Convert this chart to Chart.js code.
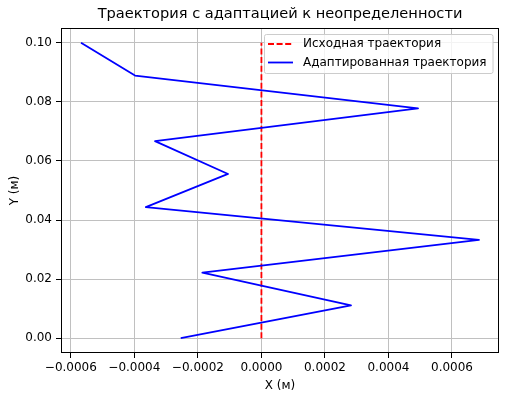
<!DOCTYPE html>
<html>
<head>
<meta charset="utf-8">
<script src="https://cdn.jsdelivr.net/npm/chart.js@4.4.1/dist/chart.umd.min.js"></script>
<style>
  html, body { margin: 0; padding: 0; background: #fff; }
  #wrap { width: 506px; height: 399px; }
</style>
</head>
<body>
<div id="wrap"><canvas id="traj" width="506" height="399"></canvas></div>
<script>
// данные траектории
const yPoints = [0, 0.0111, 0.0222, 0.0333, 0.0444, 0.0556, 0.0667, 0.0778, 0.0889, 0.1];
const xOriginal = [0, 0, 0, 0, 0, 0, 0, 0, 0, 0];
const xAdapted = [-0.000254, 0.000282, -0.000186, 0.000685, -0.000364, -0.000105, -0.000335, 0.000493, -0.000398, -0.000568];
const xTicks = [-0.0006, -0.0004, -0.0002, 0, 0.0002, 0.0004, 0.0006];
const yTicks = [0, 0.02, 0.04, 0.06, 0.08, 0.10];
const labels = ['Исходная траектория', 'Адаптированная траектория'];
const titleText = 'Траектория с адаптацией к неопределенности';

const FONT = "'DejaVu Sans', sans-serif";
const toPts = (xs) => xs.map((x, i) => ({ x: x, y: yPoints[i] }));
const fmt = (v, d) => (Math.abs(v) < 1e-12 ? 0 : v).toFixed(d).replace('-', '\u2212');

// рамка, легенда и заголовок в стиле matplotlib
const mplExtras = {
    id: 'mplExtras',
    afterDraw(chart) {
        const { ctx, chartArea: a } = chart;
        ctx.save();
        ctx.strokeStyle = '#000';
        ctx.lineWidth = 1;
        ctx.strokeRect(Math.round(a.left) + 0.5, Math.round(a.top) + 0.5,
            Math.round(a.right - a.left) - 1, Math.round(a.bottom - a.top) - 1);

        // заголовок
        ctx.fillStyle = '#000';
        ctx.font = '14.6px ' + FONT;
        ctx.textAlign = 'center';
        ctx.textBaseline = 'middle';
        ctx.fillText(titleText, (a.left + a.right) / 2, 14);

        // легенда
        ctx.font = '12px ' + FONT;
        const tw = Math.max(...labels.map(t => ctx.measureText(t).width));
        const w = 4 + 25 + 10 + tw + 6;
        const h = 39;
        const x0 = Math.round(a.right - 6 - w);
        const y0 = Math.round(a.top + 6);
        ctx.beginPath();
        ctx.roundRect(x0 + 0.5, y0 + 0.5, w, h, 2);
        ctx.fillStyle = 'rgba(255,255,255,0.8)';
        ctx.fill();
        ctx.strokeStyle = '#cccccc';
        ctx.stroke();
        chart.data.datasets.forEach((ds, i) => {
            const yy = y0 + 10 + i * 18.5;
            ctx.beginPath();
            ctx.setLineDash(ds.borderDash || []);
            ctx.strokeStyle = ds.borderColor;
            ctx.lineWidth = ds.borderWidth;
            ctx.moveTo(x0 + 4, yy);
            ctx.lineTo(x0 + 29, yy);
            ctx.stroke();
            ctx.setLineDash([]);
            ctx.fillStyle = '#000';
            ctx.textAlign = 'left';
            ctx.fillText(ds.label, x0 + 39, yy);
        });
        ctx.restore();
    }
};

new Chart(document.getElementById('traj'), {
    type: 'scatter',
    data: {
        datasets: [{
            label: labels[0],
            data: toPts(xOriginal),
            showLine: true,
            borderColor: 'red',
            borderWidth: 1.8,
            borderDash: [6, 2.6],
            pointRadius: 0,
            order: 1
        }, {
            label: labels[1],
            data: toPts(xAdapted),
            showLine: true,
            borderColor: 'blue',
            borderWidth: 1.8,
            borderJoinStyle: 'round',
            pointRadius: 0,
            order: 0
        }]
    },
    options: {
        responsive: false,
        animation: false,
        layout: { padding: { top: 28, right: 7, bottom: 0, left: 0 } },
        plugins: {
            legend: { display: false },
            title: { display: false },
            tooltip: { enabled: false }
        },
        scales: {
            x: {
                type: 'linear',
                min: -0.000631,
                max: 0.000748,
                afterFit: (s) => { s.height = 46; },
                afterBuildTicks: (s) => { s.ticks = xTicks.map(v => ({ value: v })); },
                ticks: {
                    color: '#000',
                    padding: 2.5,
                    maxRotation: 0,
                    font: { family: FONT, size: 12 },
                    callback: (v) => fmt(v, 4)
                },
                grid: { color: '#c0c0c0', lineWidth: 1, tickLength: 5, tickColor: '#000' },
                border: { display: false },
                title: {
                    display: true,
                    text: 'X (м)',
                    color: '#000',
                    padding: { top: 0, bottom: 6 },
                    font: { family: FONT, size: 12 }
                }
            },
            y: {
                type: 'linear',
                min: -0.005,
                max: 0.105,
                afterFit: (s) => { s.width = 61; },
                afterBuildTicks: (s) => { s.ticks = yTicks.map(v => ({ value: v })); },
                ticks: {
                    color: '#000',
                    padding: 4,
                    font: { family: FONT, size: 12 },
                    callback: (v) => fmt(v, 2)
                },
                grid: { color: '#c0c0c0', lineWidth: 1, tickLength: 5, tickColor: '#000' },
                border: { display: false },
                title: {
                    display: true,
                    text: 'Y (м)',
                    color: '#000',
                    padding: { top: 8, bottom: 0 },
                    font: { family: FONT, size: 12 }
                }
            }
        }
    },
    plugins: [mplExtras]
});
</script>
</body>
</html>
